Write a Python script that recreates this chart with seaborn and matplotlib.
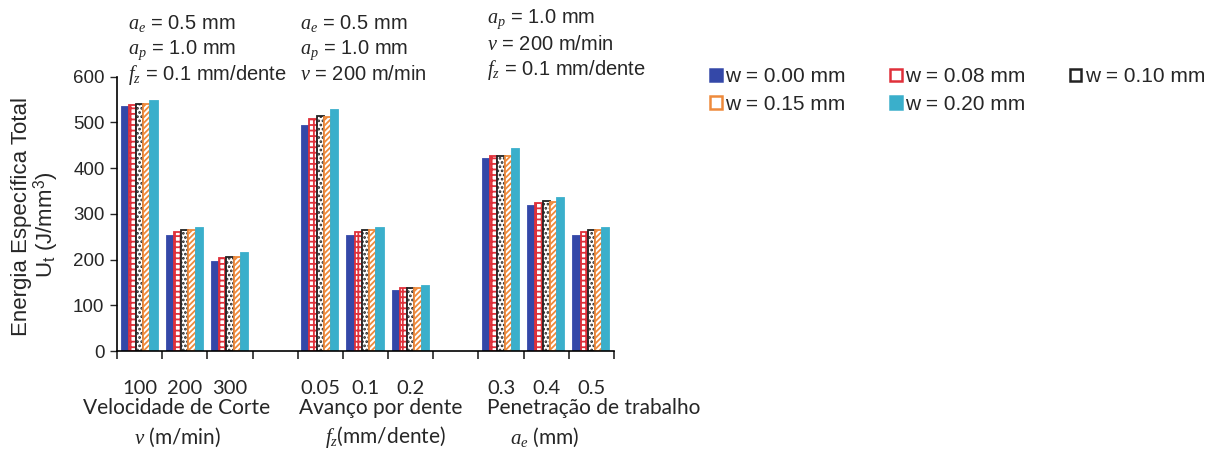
import numpy as np
import pandas as pd
import matplotlib
matplotlib.use("Agg")
import matplotlib.pyplot as plt
import seaborn as sns

# Cutting parameters (two blank slots separate the three studies)
categories = ["100", "200", "300", "gap1", "0.05", "0.1", "0.2", "gap2", "0.3", "0.4", "0.5"]
data_categories = ["100", "200", "300", "0.05", "0.1", "0.2", "0.3", "0.4", "0.5"]
tick_labels = ["100", "200", "300", "", "0.05", "0.1", "0.2", "", "0.3", "0.4", "0.5"]

# Total specific energy U_t (J/mm^3) per flank wear level
w_000 = [533, 252, 195, 493, 252, 132, 419, 317, 252]
w_008 = [539, 261, 203, 507, 261, 137, 427, 324, 261]
w_010 = [540, 265, 206, 514, 265, 138, 427, 328, 265]
w_015 = [540, 265, 206, 512, 265, 138, 427, 327, 265]
w_020 = [547, 268, 215, 527, 268, 142, 441, 334, 268]

series_names = ["w = 0.00 mm", "w = 0.08 mm", "w = 0.10 mm", "w = 0.15 mm", "w = 0.20 mm"]
series_values = [w_000, w_008, w_010, w_015, w_020]

rows = []
for name, vals in zip(series_names, series_values):
    for cat, v in zip(data_categories, vals):
        rows.append({"param": cat, "wear": name, "energy": v})
df = pd.DataFrame(rows)

sns.set_theme(style="ticks")
plt.rcParams["font.family"] = ["Liberation Sans", "DejaVu Sans"]
plt.rcParams["mathtext.fontset"] = "custom"
plt.rcParams["mathtext.rm"] = "Liberation Sans"
plt.rcParams["mathtext.it"] = "Liberation Serif:italic"
plt.rcParams["hatch.linewidth"] = 1.3

W, H = 1211, 450
fig = plt.figure(figsize=(W / 100, H / 100), dpi=100)
ax = fig.add_axes([117 / W, 1 - 351 / H, (614 - 117) / W, (351 - 76.7) / H])

styles = [
    dict(facecolor="#3448A8", edgecolor="#3448A8", hatch=None),
    dict(facecolor="white", edgecolor="#E0303A", hatch="+++"),
    dict(facecolor="white", edgecolor="#222222", hatch="...."),
    dict(facecolor="white", edgecolor="#EE8A3C", hatch="//////"),
    dict(facecolor="#3AAFCB", edgecolor="#3AAFCB", hatch=None),
]

sns.barplot(data=df, x="param", y="energy", hue="wear", order=categories,
            hue_order=series_names, errorbar=None, width=0.8, ax=ax,
            palette=["#3448A8", "white", "white", "white", "#3AAFCB"],
            legend=False)

handles = []
for cont, st in zip(ax.containers, styles):
    for bar in cont:
        bar.set_facecolor(st["facecolor"])
        bar.set_edgecolor(st["edgecolor"])
        bar.set_linewidth(1.3)
        if st["hatch"]:
            bar.set_hatch(st["hatch"])
    h = plt.Rectangle((0, 0), 1, 1, facecolor=st["facecolor"],
                      edgecolor=st["edgecolor"], linewidth=1.8)
    handles.append(h)

ax.set_xlim(-0.5, len(categories) - 0.5)
ax.set_ylim(0, 600)
ax.set_yticks(np.arange(0, 601, 100))
ax.tick_params(axis="y", labelsize=13.5, length=5, width=1, direction="out", pad=4)

# Tick marks between categories, labels at category centres
ax.set_xticks(np.arange(len(categories) + 1) - 0.5)
ax.set_xticklabels([])
ax.tick_params(axis="x", which="major", length=6, width=1.2, direction="out")
ax.set_xticks(np.arange(len(categories)), tick_labels, minor=True)
ax.tick_params(axis="x", which="minor", length=0, labelsize=14.5, pad=21)
for lab in ax.get_xticklabels(minor=True):
    lab.set_family(["Lato", "DejaVu Sans"])
ax.set_xlabel("")
ax.set_ylabel("")
for s in ["top", "right"]:
    ax.spines[s].set_visible(False)
for s in ["left", "bottom"]:
    ax.spines[s].set_linewidth(1.2)
    ax.spines[s].set_color("black")

# y-axis title
fig.text(22 / W, 1 - 217 / H, "Energia Específica Total", rotation=90,
         ha="center", va="center", fontsize=16)
fig.text(46 / W, 1 - 225 / H, r"U$_\mathrm{t}$ (J/mm$^3$)", rotation=90,
         ha="center", va="center", fontsize=16)

# group titles under the axis
group_titles = [
    (177, "Velocidade de Corte", r"$v$ (m/min)", 178),
    (381, "Avanço por dente", r"$f_z$(mm/dente)", 385),
    (594, "Penetração de trabalho", r"$a_e$ (mm)", 545),
]
for xc, t1, t2, x2 in group_titles:
    fig.text(xc / W, 1 - 408 / H, t1, ha="center", va="center", fontsize=15,
             family=["Lato", "DejaVu Sans"])
    fig.text(x2 / W, 1 - 437 / H, t2, ha="center", va="center", fontsize=15,
             family=["Lato", "DejaVu Sans"])

# constant cutting conditions above each study
cond_blocks = [
    (128, [r"$a_e$ = 0.5 mm", r"$a_p$ = 1.0 mm", r"$f_z$ = 0.1 mm/dente"], [24, 50, 75]),
    (300, [r"$a_e$ = 0.5 mm", r"$a_p$ = 1.0 mm", r"$v$ = 200 m/min"], [24, 50, 75]),
    (487, [r"$a_p$ = 1.0 mm", r"$v$ = 200 m/min", r"$f_z$ = 0.1 mm/dente"], [19, 45, 70]),
]
for x0, lines, ys in cond_blocks:
    for txt, yy in zip(lines, ys):
        fig.text(x0 / W, 1 - yy / H, txt, ha="left", va="center", fontsize=14.5)

# legend, filled row by row
order = [0, 3, 1, 4, 2]
fig.legend([handles[i] for i in order], [series_names[i] for i in order],
           loc="upper left", bbox_to_anchor=(702 / W, 1 - 59 / H),
           ncol=3, frameon=False, fontsize=15, handlelength=0.55,
           handleheight=0.55, handletextpad=0.15, columnspacing=2.15,
           labelspacing=0.4, borderaxespad=0)

fig.savefig("out.png", dpi=100)
